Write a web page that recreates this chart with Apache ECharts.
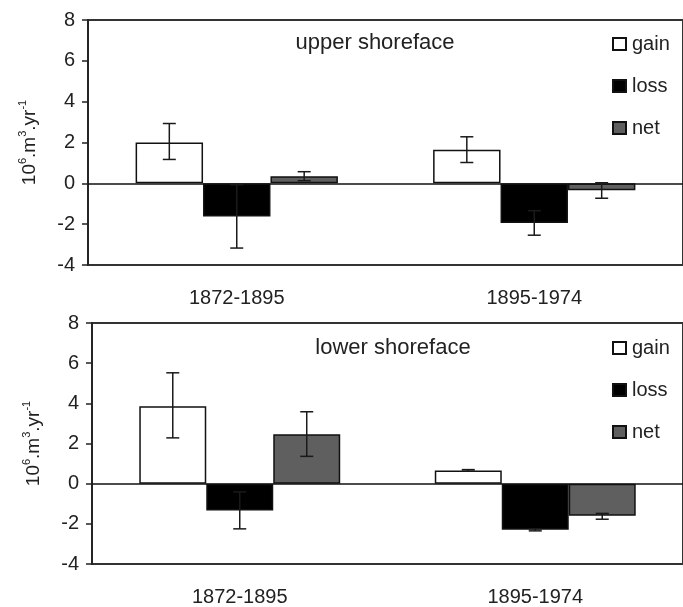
<!DOCTYPE html>
<html>
<head>
<meta charset="utf-8">
<script src="https://cdn.jsdelivr.net/npm/echarts@6/dist/echarts.min.js"></script>
<style>html,body{margin:0;padding:0;background:#fff;}#c{width:683px;height:607px;}</style>
</head>
<body>
<div id="c"></div>
<script>
// ---- data ----
const categories = ['1872-1895', '1895-1974'];
const seriesNames = ['gain', 'loss', 'net'];
const panelTitles = ['upper shoreface', 'lower shoreface'];
const yTicks = [-4, -2, 0, 2, 4, 6, 8];

// upper shoreface
const upperGain = [2.0, 1.65];
const upperLoss = [-1.62, -1.94];
const upperNet = [0.35, -0.34];
const upperGainErrLow = [1.17, 1.02];
const upperGainErrHigh = [2.93, 2.28];
const upperLossErrLow = [-3.17, -2.54];
const upperLossErrHigh = [-0.07, -1.34];
const upperNetErrLow = [0.13, -0.73];
const upperNetErrHigh = [0.57, 0.03];

// lower shoreface
const lowerGain = [3.86, 0.66];
const lowerLoss = [-1.33, -2.3];
const lowerNet = [2.46, -1.6];
const lowerGainErrLow = [2.28, 0.62];
const lowerGainErrHigh = [5.52, 0.70];
const lowerLossErrLow = [-2.25, -2.35];
const lowerLossErrHigh = [-0.41, -2.25];
const lowerNetErrLow = [1.36, -1.77];
const lowerNetErrHigh = [3.58, -1.48];

// ---- styling ----
const FONT = "'Liberation Sans', Arial, sans-serif";
const TXT = '#222';
const GAP = 0.32;
const fills = ['#ffffff', '#000000', '#5f5f5f'];

const panels = [
  {vals: [upperGain, upperLoss, upperNet],
   lo: [upperGainErrLow, upperLossErrLow, upperNetErrLow],
   hi: [upperGainErrHigh, upperLossErrHigh, upperNetErrHigh]},
  {vals: [lowerGain, lowerLoss, lowerNet],
   lo: [lowerGainErrLow, lowerLossErrLow, lowerNetErrLow],
   hi: [lowerGainErrHigh, lowerLossErrHigh, lowerNetErrHigh]}
];

function errRender(k) {
  return function (params, api) {
    const cat = api.value(0);
    const band = api.size([1, 0])[0];
    const bw = band * (1 - GAP) / 3;
    const x = api.coord([cat, 0])[0] + (k - 1) * bw;
    const yl = api.coord([cat, api.value(1)])[1];
    const yh = api.coord([cat, api.value(2)])[1];
    const c = 6.5;
    const st = {stroke: '#1a1a1a', lineWidth: 1.5};
    return {type: 'group', children: [
      {type: 'line', shape: {x1: x, y1: yl, x2: x, y2: yh}, style: st},
      {type: 'line', shape: {x1: x - c, y1: yl, x2: x + c, y2: yl}, style: st},
      {type: 'line', shape: {x1: x - c, y1: yh, x2: x + c, y2: yh}, style: st}
    ]};
  };
}

const grids = [
  {left: 88, right: -9, top: 20, height: 245, show: true, borderColor: '#333', borderWidth: 2, backgroundColor: 'transparent'},
  {left: 92, right: -9, top: 323, height: 244, show: true, borderColor: '#333', borderWidth: 2, backgroundColor: 'transparent'}
];

const xAxes = [0, 1].map(i => ({
  type: 'category', gridIndex: i, data: categories,
  axisLine: {show: false}, axisTick: {show: false},
  axisLabel: {margin: 23, fontSize: 20, color: TXT, fontFamily: FONT}
}));

const yAxes = [0, 1].map(i => ({
  type: 'value', gridIndex: i, min: yTicks[0], max: yTicks[yTicks.length - 1], interval: 2,
  splitLine: {show: false},
  axisLine: {show: true, lineStyle: {color: '#222', width: 1.5}},
  axisTick: {show: true, length: 6, lineStyle: {color: '#222', width: 1.5}},
  axisLabel: {margin: 13, fontSize: 20, color: TXT, fontFamily: FONT},
  name: '{n|10}{s|6}{n|.m}{s|3}{n|.yr}{s|-1}',
  nameLocation: 'middle', nameRotate: 90, nameGap: 49,
  nameTextStyle: {
    fontFamily: FONT, color: TXT,
    rich: {
      n: {fontSize: 19, fontFamily: FONT, color: TXT, lineHeight: 22, verticalAlign: 'bottom'},
      s: {fontSize: 11, fontFamily: FONT, color: TXT, lineHeight: 22, verticalAlign: 'top'}
    }
  }
}));

const series = [];
panels.forEach((p, pi) => {
  seriesNames.forEach((nm, k) => {
    const s = {
      type: 'bar', name: nm, xAxisIndex: pi, yAxisIndex: pi,
      data: p.vals[k], barGap: '0%', barCategoryGap: (GAP * 100) + '%',
      itemStyle: {color: fills[k], borderColor: '#111', borderWidth: 1.5},
      emphasis: {disabled: true}, animation: false
    };
    if (k === 0) {
      s.markLine = {silent: true, symbol: 'none', label: {show: false}, animation: false,
        lineStyle: {color: '#111', width: 1.5, type: 'solid'}, data: [{yAxis: 0}]};
    }
    series.push(s);
  });
  seriesNames.forEach((nm, k) => {
    series.push({
      type: 'custom', xAxisIndex: pi, yAxisIndex: pi, z: 5, silent: true,
      renderItem: errRender(k), animation: false,
      data: categories.map((c, ci) => [ci, p.lo[k][ci], p.hi[k][ci]])
    });
  });
});

const legendBase = {
  orient: 'vertical', left: 612, padding: 0, itemGap: 22, itemWidth: 13, itemHeight: 12,
  icon: 'rect', data: seriesNames, selectedMode: false,
  textStyle: {fontSize: 20, color: TXT, fontFamily: FONT, padding: [0, 0, 0, 1]}
};

const option = {
  animation: false,
  backgroundColor: '#fff',
  title: [
    {text: panelTitles[0], left: 375, top: 32, textAlign: 'center', padding: 0,
     textStyle: {fontSize: 22, fontWeight: 'normal', color: TXT, fontFamily: FONT}},
    {text: panelTitles[1], left: 393, top: 337, textAlign: 'center', padding: 0,
     textStyle: {fontSize: 22, fontWeight: 'normal', color: TXT, fontFamily: FONT}}
  ],
  legend: [
    Object.assign({}, legendBase, {top: 34}),
    Object.assign({}, legendBase, {top: 338})
  ],
  grid: grids,
  xAxis: xAxes,
  yAxis: yAxes,
  series: series
};

const chart = echarts.init(document.getElementById('c'), null, {renderer: 'canvas'});
chart.setOption(option);
</script>
</body>
</html>
